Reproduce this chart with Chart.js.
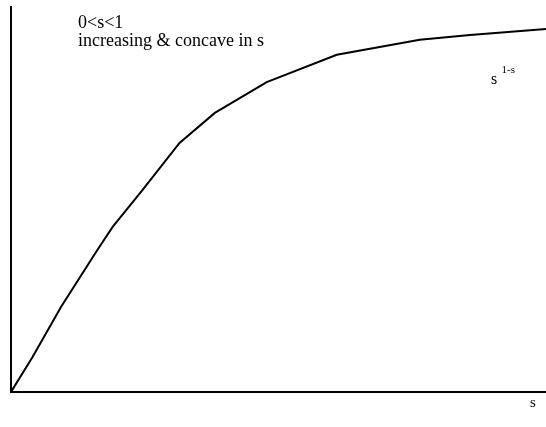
<!DOCTYPE html>
<html>
<head>
<meta charset="utf-8">
<script src="https://cdn.jsdelivr.net/npm/chart.js@4"></script>
<style>
  html, body { margin: 0; padding: 0; background: #fff; }
  #wrap { width: 546px; height: 427px; }
</style>
</head>
<body>
<div id="wrap"><canvas id="curveChart"></canvas></div>
<script>
var sValues = [0, 0.040, 0.094, 0.162, 0.190, 0.246, 0.315, 0.381, 0.478, 0.609, 0.764, 0.858, 1.0];
var fValues = [0, 0.090, 0.222, 0.370, 0.429, 0.525, 0.647, 0.725, 0.805, 0.876, 0.915, 0.927, 0.943];

var noteLines = ['0<s<1', 'increasing & concave in s'];
var curveName = 's';
var curveExp = '1-s';
var xTitle = 's';

var serif = '"Liberation Serif", "Times New Roman", serif';

var points = sValues.map(function(s, i) { return { x: s, y: fValues[i] }; });

// text labels, placed relative to the plot area
var labelsPlugin = {
    id: 'notes',
    afterDraw: function(chart) {
        var c = chart.ctx;
        var area = chart.chartArea;
        c.save();
        c.fillStyle = '#000';
        c.textBaseline = 'alphabetic';
        c.font = '18px ' + serif;
        c.fillText(noteLines[0], area.left + 67, area.top + 20.5);
        c.fillText(noteLines[1], area.left + 67, area.top + 38.5);
        c.font = '16px ' + serif;
        c.fillText(curveName, area.left + 480, area.top + 77);
        c.font = '11px ' + serif;
        c.fillText(curveExp, area.left + 490.5, area.top + 66);
        // axis name under the s axis
        c.font = '15px ' + serif;
        c.fillText(xTitle, area.right - 16, area.bottom + 15);
        c.restore();
    }
};

var ctx = document.getElementById('curveChart').getContext('2d');

var chart = new Chart(ctx, {
    type: 'scatter',
    data: {
        datasets: [{
            data: points,
            showLine: true,
            borderColor: '#000',
            borderWidth: 2,
            pointRadius: 0,
            tension: 0
        }]
    },
    options: {
        responsive: true,
        maintainAspectRatio: false,
        animation: false,
        layout: {
            padding: { left: 3, top: 7, right: 0, bottom: 27 }
        },
        scales: {
            x: {
                type: 'linear',
                min: 0,
                max: 1,
                grid: { display: false },
                border: { display: true, color: '#000', width: 2 },
                ticks: { display: false }
            },
            y: {
                type: 'linear',
                min: 0,
                max: 1,
                grid: { display: false },
                border: { display: true, color: '#000', width: 2 },
                ticks: { display: false }
            }
        },
        plugins: {
            legend: { display: false },
            tooltip: { enabled: false }
        }
    },
    plugins: [labelsPlugin]
});
</script>
</body>
</html>
